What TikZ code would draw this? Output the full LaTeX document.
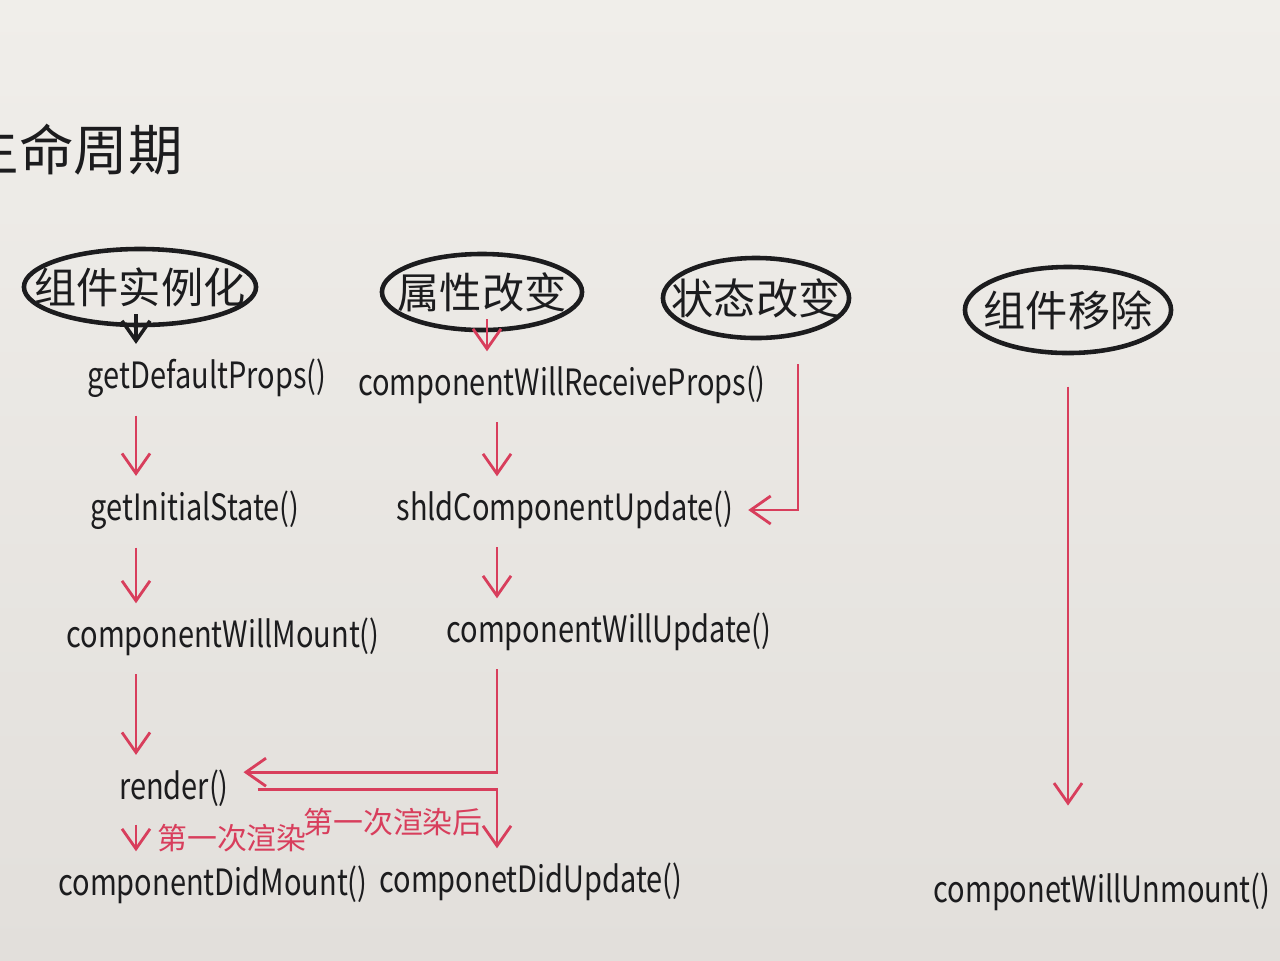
\documentclass[tikz,border=0pt]{standalone}
\usepackage{fontspec}
\setmainfont{Noto Sans CJK SC}
\newfontfamily\handfont[FakeStretch=0.8]{Noto Sans CJK SC}
\usetikzlibrary{arrows.meta, positioning, shapes.geometric}
\definecolor{paper}{RGB}{240,238,234}
\definecolor{paperdark}{RGB}{226,223,219}
\definecolor{ink}{RGB}{28,28,30}
\definecolor{pen}{RGB}{216,62,92}

\begin{document}
\begin{tikzpicture}[
    x=0.01cm, y=-0.01cm, >={Straight Barb[length=2mm, width=2.8mm]},
    event/.style={font=\fontsize{12}{14}\selectfont, text=ink, inner sep=2pt},
    ring/.style={draw=ink, line width=1.3pt},
    call/.style={font=\handfont\fontsize{10.3}{12}\selectfont, text=ink, inner sep=1pt},
    flow/.style={->, draw=pen, line width=0.8pt, shorten <=4pt, shorten >=3pt},
    note/.style={font=\fontsize{8.5}{10}\selectfont, text=pen}
  ]
  \shade[top color=paper, bottom color=paperdark] (0,0) rectangle (1280,960);
  \useasboundingbox (0,0) rectangle (1280,960);
  \clip (0,0) rectangle (1280,960);

  % title, cut by the page edge
  \node[anchor=east, font=\fontsize{15.5}{18}\selectfont, text=ink] (title)
    at (195,150) {生命周期};

  % the four events
  \node[event] (inst) at (140,287) {组件实例化};
  \node[event] (prop) at (482,292) {属性改变};
  \node[event] (state) at (756,298) {状态改变};
  \node[event] (unmount) at (1068,310) {组件移除};
  \draw[ring] (inst) ellipse [x radius=1.16cm, y radius=0.38cm];
  \draw[ring] (prop) ellipse [x radius=1.0cm, y radius=0.38cm];
  \draw[ring] (state) ellipse [x radius=0.93cm, y radius=0.4cm];
  \draw[ring] (unmount) ellipse [x radius=1.03cm, y radius=0.43cm];

  % mounting column
  \node[call] (dflt) at (207,378) {getDefaultProps()};
  \node[call] (init) at (195,510) {getInitialState()};
  \node[call] (wmnt) at (223,637) {componentWillMount()};
  \node[call] (render) at (174,788) {render()};
  \node[call] (dmnt) at (213,885) {componentDidMount()};

  % updating column
  \node[call] (rcv) at (562,385) {componentWillReceiveProps()};
  \node[call] (shld) at (565,510) {shldComponentUpdate()};
  \node[call] (wupd) at (609,632) {componentWillUpdate()};
  \node[call] (dupd) at (531,882) {componetDidUpdate()};

  % unmounting
  \node[call] (wunm) at (1102,892) {componetWillUnmount()};

  \coordinate (lcol) at (136,0);
  \coordinate (rcol) at (497,0);
  \coordinate (stl) at (798,350);

  \draw[->, draw=ink, line width=1pt, shorten >=3pt] (inst.south -| lcol) -- (dflt.north -| lcol);
  \draw[flow] (dflt.south -| lcol) -- (init.north -| lcol);
  \draw[flow] (init.south -| lcol) -- (wmnt.north -| lcol);
  \draw[flow] (wmnt.south -| lcol) -- (render.north -| lcol);
  \draw[flow] (render.south -| lcol) -- (dmnt.north -| lcol);

  \draw[flow, shorten <=0pt] (prop.south -| 487,0) -- (rcv.north -| 487,0);
  \draw[flow] (rcv.south -| rcol) -- (shld.north -| rcol);
  \draw[flow] (shld.south -| rcol) -- (wupd.north -| rcol);
  \draw[flow] (stl) |- (shld.east);
  \draw[flow] (wupd.south -| rcol) |- ([yshift=4.5pt]render.east);
  \draw[flow, shorten <=7pt] ([yshift=-0.5pt]render.east) -| (dupd.north -| rcol);
  \draw[flow, shorten <=14pt, shorten >=18pt] (unmount.south) -- (unmount.south |- wunm.north);

  \node[note] (firstr) at (232,838) {第一次渲染};
  \node[note] (afterr) at (393,822) {第一次渲染后};
\end{tikzpicture}
\end{document}
